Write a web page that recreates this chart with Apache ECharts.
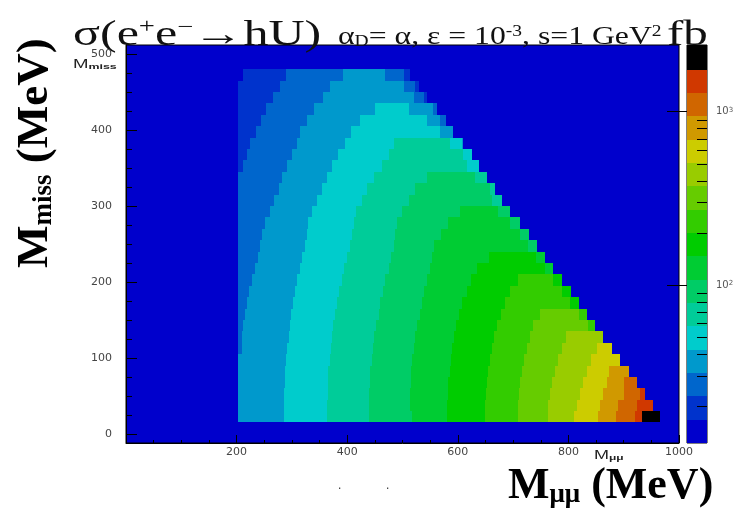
<!DOCTYPE html>
<html><head><meta charset="utf-8">
<script src="https://cdn.jsdelivr.net/npm/echarts@6/dist/echarts.min.js"></script>
<style>html,body{margin:0;padding:0;background:#fff}#c{width:741px;height:515px}</style>
</head><body><div id="c"></div>
<script>
// ---- data ----
// lower edges of the M_miss rows (MeV); last value = top edge of the last row
const rowEdgesY = [15,30,45,60,75,90,105,120,135,150,165,180,195,210,225,240,255,270,285,300,315,330,345,360,375,390,405,420,435,450,465,480];
// per row: runs of [start M_mumu (MeV), colour level]
const rowRuns = [
  [[203,3],[285,4],[364,5],[440,6],[518,7],[581,8],[649,9],[708,10],[763,11],[811,12],[853,13],[886,14],[920,15],[933,16]],
  [[203,3],[285,4],[364,5],[440,6],[514,7],[581,8],[650,9],[709,10],[764,11],[815,12],[858,13],[889,14],[924,15]],
  [[203,3],[286,4],[365,5],[440,6],[514,7],[582,8],[651,9],[711,10],[767,11],[821,12],[862,13],[900,14],[930,15]],
  [[203,3],[287,4],[365,5],[441,6],[515,7],[583,8],[653,9],[713,10],[771,11],[827,12],[869,13],[901,14]],
  [[203,3],[288,4],[366,5],[442,6],[516,7],[585,8],[655,9],[716,10],[775,11],[833,12],[873,13]],
  [[203,3],[290,4],[368,5],[444,6],[518,7],[587,8],[658,9],[720,10],[781,11],[840,12]],
  [[203,2],[209,3],[292,4],[370,5],[446,6],[520,7],[590,8],[662,9],[725,10],[788,11],[852,12]],
  [[203,2],[209,3],[294,4],[373,5],[449,6],[523,7],[593,8],[666,9],[730,10],[796,11]],
  [[203,2],[212,3],[296,4],[375,5],[452,6],[527,7],[597,8],[671,9],[736,10],[836,9]],
  [[203,2],[215,3],[298,4],[378,5],[457,6],[531,7],[602,8],[678,9],[748,10],[820,9]],
  [[203,2],[218,3],[302,4],[382,5],[460,6],[535,7],[608,8],[685,9],[803,8]],
  [[203,2],[223,3],[306,4],[386,5],[465,6],[539,7],[616,8],[694,9],[788,8]],
  [[203,2],[227,3],[310,4],[390,5],[469,6],[544,7],[624,8],[708,9],[772,8]],
  [[203,2],[233,3],[314,4],[395,5],[475,6],[549,7],[635,8],[757,7]],
  [[203,2],[239,3],[318,4],[399,5],[479,6],[553,7],[656,8],[742,7]],
  [[203,2],[242,3],[324,4],[405,5],[484,6],[557,7],[727,6]],
  [[203,2],[246,3],[327,4],[409,5],[487,6],[570,7],[712,6]],
  [[203,2],[251,3],[330,4],[412,5],[490,6],[583,7],[694,6]],
  [[203,2],[260,3],[336,4],[416,5],[499,6],[604,7],[672,6]],
  [[203,2],[268,3],[346,4],[426,5],[511,6],[662,5]],
  [[203,2],[276,3],[354,4],[436,5],[523,6],[659,5]],
  [[203,2],[282,3],[363,4],[448,5],[544,6],[632,5]],
  [[203,1],[211,2],[292,3],[372,4],[463,5],[617,4]],
  [[203,1],[218,2],[300,3],[384,4],[475,5],[610,4]],
  [[203,1],[224,2],[309,3],[396,4],[484,5],[586,4],[607,3]],
  [[203,1],[235,2],[315,3],[407,4],[568,3]],
  [[203,1],[244,2],[327,3],[424,4],[544,3],[568,2]],
  [[203,1],[253,2],[340,3],[451,4],[511,3],[556,2]],
  [[203,1],[265,2],[357,3],[520,2],[538,1]],
  [[203,1],[278,2],[369,3],[502,2],[523,1]],
  [[211,1],[290,2],[393,3],[469,2],[502,1]]
];
// right (kinematic) end of each row, MeV
const rowEnds = [966,953,938,924,909,894,879,863,849,834,819,804,788,773,758,743,728,713,695,680,668,653,638,626,610,592,579,562,544,529,513];
// colour-scale contour levels (fb, log z)
const levelBounds = [12.25,16.70,22.77,31.05,42.34,57.73,78.72,107.3,146.3,199.5,272.1,371.0,505.9,689.8,940.5,1282,1749,2426];
const palette = ['#0000cc','#0033cc','#0066cc','#0099cc','#00cccc','#00cc99','#00cc66','#00cc33','#00cc00','#33cc00','#66cc00','#99cc00','#cccc00','#d09900','#d06600','#d03800','#000000'];
const cbMinorTicks = [20,30,40,50,60,70,80,90,200,300,400,500,600,700,800,900,2000];
const xTickStep = 200, yTickStep = 100;

// ---- build series data ----
const cells = [];
rowRuns.forEach((runs, i) => {
  const y0 = rowEdgesY[i], y1 = rowEdgesY[i + 1];
  runs.forEach((r, k) => {
    const x1 = k + 1 < runs.length ? runs[k + 1][0] : rowEnds[i];
    cells.push([r[0], x1, y0, y1, r[1]]);
  });
});
const bands = [];
for (let k = 0; k < palette.length; k++) bands.push([levelBounds[k], levelBounds[k + 1], k]);

function renderCell(params, api) {
  const p0 = api.coord([api.value(0), api.value(2)]);
  const p1 = api.coord([api.value(1), api.value(3)]);
  const x = Math.round(p0[0]), x2 = Math.round(p1[0]);
  const yb = Math.round(p0[1]), yt = Math.round(p1[1]);
  return {type: 'rect', shape: {x: x, y: yt, width: x2 - x, height: yb - yt}, style: {fill: palette[api.value(4)]}};
}
function renderBand(params, api) {
  const p0 = api.coord([0, api.value(0)]);
  const p1 = api.coord([1, api.value(1)]);
  const x = Math.round(p0[0]), x2 = Math.round(p1[0]);
  const yb = Math.round(p0[1]), yt = Math.round(p1[1]);
  return {type: 'rect', shape: {x: x, y: yt, width: x2 - x, height: yb - yt}, style: {fill: palette[api.value(2)]}};
}
function renderMinorTick(params, api) {
  const p = api.coord([1, api.value(0)]);
  const y = Math.round(p[1]) + 0.5;
  return {type: 'line', shape: {x1: p[0] - 10, y1: y, x2: p[0], y2: y}, style: {stroke: '#000', lineWidth: 1}};
}

const lblFont = {fontFamily: 'DejaVu Sans', fontSize: 11, color: '#444'};
const serif = 'Liberation Serif';

const chart = echarts.init(document.getElementById('c'), null, {renderer: 'canvas'});
chart.setOption({
  animation: false,
  backgroundColor: '#ffffff',
  grid: [
    {left: 126, top: 45, width: 553, height: 398, show: true, backgroundColor: '#0000cc', borderColor: '#000', borderWidth: 1, containLabel: false, outerBoundsMode: 'none'},
    {left: 126, top: 54, width: 553, height: 380, show: false, containLabel: false, outerBoundsMode: 'none'},
    {left: 687, top: 45, width: 20, height: 398, show: true, backgroundColor: '#0000cc', borderColor: '#000', borderWidth: 1, containLabel: false, outerBoundsMode: 'none'}
  ],
  xAxis: [
    {gridIndex: 0, type: 'value', min: 0, max: 1000, interval: xTickStep,
     axisLine: {show: true, onZero: false, lineStyle: {color: '#000', width: 1}},
     axisTick: {show: true, inside: true, length: 8, lineStyle: {color: '#000'}},
     minorTick: {show: true, splitNumber: 4, length: 3, lineStyle: {color: '#000'}},
     splitLine: {show: false},
     axisLabel: Object.assign({margin: 4, formatter: v => (v === 0 ? '' : String(v)), showMinLabel: true, showMaxLabel: true}, lblFont)},
    {gridIndex: 1, type: 'value', min: 0, max: 1000, show: false},
    {gridIndex: 2, type: 'value', min: 0, max: 1, show: false}
  ],
  yAxis: [
    {gridIndex: 0, type: 'value', min: -12, max: 512,
     axisLine: {show: true, onZero: false, lineStyle: {color: '#000'}}, axisTick: {show: false}, axisLabel: {show: false}, splitLine: {show: false}},
    {gridIndex: 1, type: 'value', min: 0, max: 500, interval: yTickStep,
     axisLine: {show: false, onZero: false},
     axisTick: {show: true, inside: true, length: 11, lineStyle: {color: '#000'}},
     minorTick: {show: true, splitNumber: 4, length: 6, lineStyle: {color: '#000'}},
     splitLine: {show: false},
     axisLabel: Object.assign({margin: 14}, lblFont)},
    {gridIndex: 2, type: 'log', logBase: 10, min: levelBounds[0], max: levelBounds[levelBounds.length - 1], position: 'right',
     axisLine: {show: false},
     axisTick: {show: true, inside: true, length: 20, lineStyle: {color: '#000'}},
     splitLine: {show: false},
     axisLabel: {margin: 9, showMinLabel: false, showMaxLabel: false,
       formatter: v => { const e = Math.round(Math.log10(v)); return (Math.abs(Math.log10(v) - e) < 1e-6 && (e === 2 || e === 3)) ? '{a|10}{s|' + e + '}' : ''; },
       rich: {a: {fontFamily: 'DejaVu Sans', fontSize: 10, color: '#555'}, s: {fontFamily: 'DejaVu Sans', fontSize: 7, color: '#555', verticalAlign: 'top', padding: [0, 0, 4, 0]}}}}
  ],
  series: [
    {type: 'custom', name: 'sigma', xAxisIndex: 0, yAxisIndex: 0, data: cells, renderItem: renderCell, clip: true,
     dimensions: ['x0', 'x1', 'y0', 'y1', 'level'], encode: {x: [0, 1], y: [2, 3]}, silent: true},
    {type: 'custom', name: 'palette', xAxisIndex: 2, yAxisIndex: 2, data: bands, renderItem: renderBand, clip: true,
     encode: {y: [0, 1]}, silent: true},
    {type: 'custom', name: 'zticks', xAxisIndex: 2, yAxisIndex: 2, data: cbMinorTicks.map(v => [v]), renderItem: renderMinorTick,
     encode: {y: 0}, silent: true, z: 5}
  ],
  graphic: [
    {type: 'text', x: 73, y: 18, scaleX: 1.43, style: {text: 'σ(e{sup|+}e{sup|−}→hU)', fontFamily: serif, fontSize: 35, fill: '#111', verticalAlign: 'top',
      rich: {sup: {fontFamily: serif, fontSize: 20, fill: '#111', verticalAlign: 'top'}}}},
    {type: 'text', x: 338, y: 24, scaleX: 1.22, style: {text: 'α{sub|D}= α, ε = 10{sup|-3}, s=1 GeV{sup|2}', fontFamily: serif, fontSize: 26, fill: '#111', verticalAlign: 'top',
      rich: {sub: {fontFamily: serif, fontSize: 16, fill: '#111', verticalAlign: 'bottom', lineHeight: 10},
             sup: {fontFamily: serif, fontSize: 16, fill: '#111', verticalAlign: 'top'}}}},
    {type: 'text', x: 667, y: 18, scaleX: 1.4, style: {text: 'fb', fontFamily: serif, fontSize: 35, fill: '#111', verticalAlign: 'top'}},
    {type: 'text', x: 508, y: 465, style: {text: 'M{sub|μμ} (MeV)', fontFamily: serif, fontWeight: 'bold', fontSize: 44, fill: '#000', verticalAlign: 'top',
      rich: {sub: {fontFamily: serif, fontWeight: 'bold', fontSize: 27, fill: '#000', verticalAlign: 'bottom', lineHeight: 14}}}},
    {type: 'text', x: 13, y: 268, rotation: Math.PI / 2, style: {text: 'M{sub|miss} (MeV)', fontFamily: serif, fontWeight: 'bold', fontSize: 45, fill: '#000', verticalAlign: 'top',
      rich: {sub: {fontFamily: serif, fontWeight: 'bold', fontSize: 27, fill: '#000', verticalAlign: 'bottom', lineHeight: 14}}}},
    {type: 'text', x: 73, y: 59, scaleX: 1.55, style: {text: 'M{s|miss}', fontFamily: 'Liberation Sans', fontSize: 12, fill: '#222', verticalAlign: 'top',
      rich: {s: {fontFamily: 'Liberation Sans', fontWeight: 'bold', fontSize: 8, fill: '#222', verticalAlign: 'bottom', lineHeight: 6}}}},
    {type: 'text', x: 594, y: 450, scaleX: 1.5, style: {text: 'M{s|μμ}', fontFamily: 'Liberation Sans', fontSize: 12, fill: '#222', verticalAlign: 'top',
      rich: {s: {fontFamily: 'Liberation Sans', fontWeight: 'bold', fontSize: 8, fill: '#222', verticalAlign: 'bottom', lineHeight: 6}}}},
    {type: 'text', x: 338, y: 480, style: {text: '.', fontFamily: 'Liberation Sans', fontSize: 12, fill: '#333'}},
    {type: 'text', x: 386, y: 480, style: {text: '.', fontFamily: 'Liberation Sans', fontSize: 12, fill: '#333'}}
  ]
});
</script>
</body></html>
